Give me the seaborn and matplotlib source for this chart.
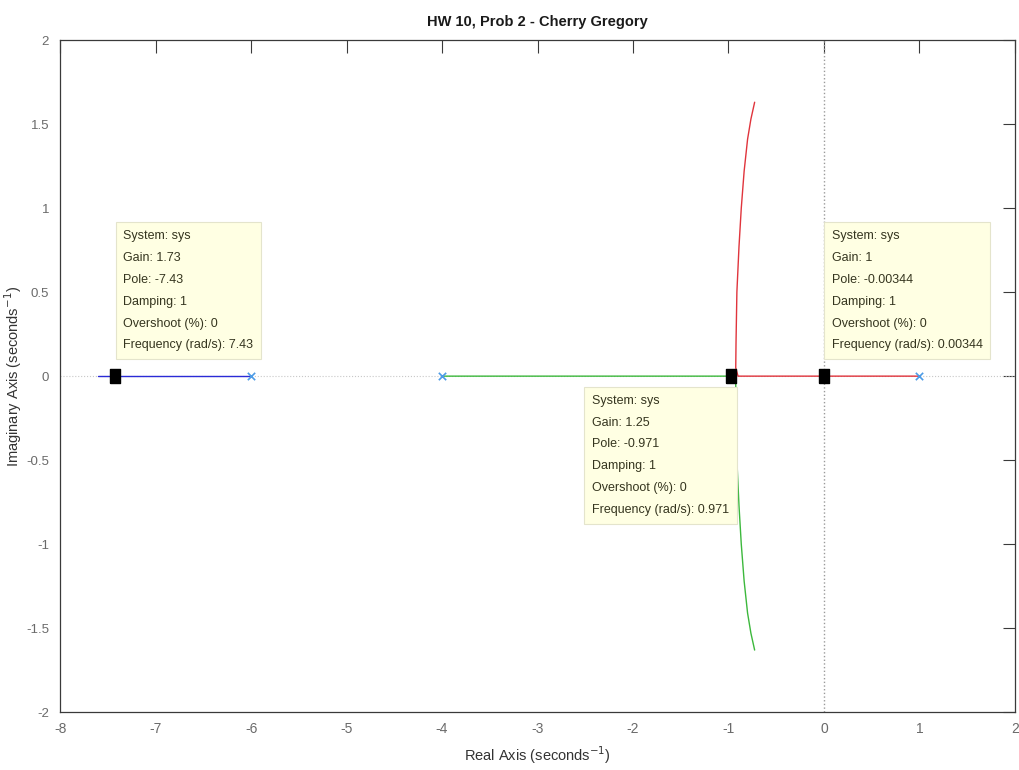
import matplotlib
matplotlib.use('Agg')
import matplotlib.pyplot as plt
import seaborn as sns
import pandas as pd

# root locus data
open_loop_poles = [1, -4, -6]

blue_re = [-6, -7.6]
blue_im = [0, 0]

green_re = [-4, -0.925, -0.924, -0.921, -0.912, -0.89, -0.866, -0.836, -0.8, -0.765, -0.726]
green_im = [0, 0, -0.05, -0.2, -0.5, -0.77, -1.0, -1.22, -1.41, -1.53, -1.63]

red_re = [1, -0.90, -0.924, -0.921, -0.912, -0.89, -0.866, -0.836, -0.8, -0.765, -0.726]
red_im = [0, 0, 0.05, 0.2, 0.5, 0.77, 1.0, 1.22, 1.41, 1.53, 1.63]

# data tips
tip_pole = [-7.43, -0.971, -0.00344]
tip_gain = ['1.73', '1.25', '1']
tip_pole_txt = ['-7.43', '-0.971', '-0.00344']
tip_text_x = [-7.34, -2.43, 0.08]
tip_text_y = [0.87, -0.11, 0.87]

sns.set_theme(style='white')
plt.rcParams['font.family'] = ['Liberation Sans', 'DejaVu Sans']
plt.rcParams['axes.unicode_minus'] = False

fig = plt.figure(figsize=(10.19, 7.7), dpi=100)
ax = fig.add_axes([0.059, 0.075, 0.937, 0.873])

# dotted axes through origin
ax.axhline(0, color='#c8c8c8', lw=0.8, ls=':', zorder=1)
ax.axvline(0, color='#9a9a9a', lw=1.0, ls=':', zorder=1)

branches = pd.concat([
    pd.DataFrame({'re': blue_re, 'im': blue_im, 'branch': 'b'}),
    pd.DataFrame({'re': green_re, 'im': green_im, 'branch': 'g'}),
    pd.DataFrame({'re': red_re, 'im': red_im, 'branch': 'r'}),
])
sns.lineplot(data=branches, x='re', y='im', hue='branch', sort=False,
             palette={'b': '#2b2bd6', 'g': '#3cb83c', 'r': '#e0343c'},
             lw=1.0, legend=False, ax=ax, zorder=2)

sns.scatterplot(x=open_loop_poles, y=[0] * len(open_loop_poles), marker='x',
                color='#4d9be6', s=28, linewidth=1.2, ax=ax, zorder=3)

rect = [(-0.36, -0.5), (0.36, -0.5), (0.36, 0.5), (-0.36, 0.5), (-0.36, -0.5)]
ax.plot(tip_pole, [0] * len(tip_pole), ls='none', marker=rect, ms=10.5,
        color='black', zorder=4)

for i in range(len(tip_pole)):
    freq = tip_pole_txt[i].lstrip('-')
    txt = '\n'.join([
        'System: sys',
        'Gain: ' + tip_gain[i],
        'Pole: ' + tip_pole_txt[i],
        'Damping: 1',
        'Overshoot (%): 0',
        'Frequency (rad/s): ' + freq,
    ])
    ax.text(tip_text_x[i], tip_text_y[i], txt, ha='left', va='top',
            fontsize=9, color='#35351f', linespacing=2.1, zorder=5,
            bbox=dict(boxstyle='square,pad=0.6', fc='#ffffe3', ec='#e4e4cc', lw=0.8))

ax.set_xlim(-8, 2)
ax.set_ylim(-2, 2)
ax.set_xticks(range(-8, 3))
ax.set_yticks([-2, -1.5, -1, -0.5, 0, 0.5, 1, 1.5, 2])
ax.set_yticklabels(['-2', '-1.5', '-1', '-0.5', '0', '0.5', '1', '1.5', '2'])
ax.tick_params(direction='in', length=9, width=0.8, colors='#3a3a3a',
               labelcolor='#6a6a6a', labelsize=10, top=True, right=True, pad=7)
ax.tick_params(axis='y', labelsize=9.5, pad=8)
for s in ax.spines.values():
    s.set_color('#3a3a3a')
    s.set_linewidth(0.9)

ax.set_xlabel('Real Axis (seconds$^{-1}$)', fontsize=10.5, color='#333333', labelpad=6)
ax.set_ylabel('Imaginary Axis (seconds$^{-1}$)', fontsize=10.5, color='#333333')
ax.yaxis.set_label_coords(-0.038, 0.5)
ax.set_title('HW 10, Prob 2 - Cherry Gregory', fontsize=10.5, fontweight='bold',
             color='#1a1a1a', pad=10)

fig.savefig('out.png', dpi=100)
